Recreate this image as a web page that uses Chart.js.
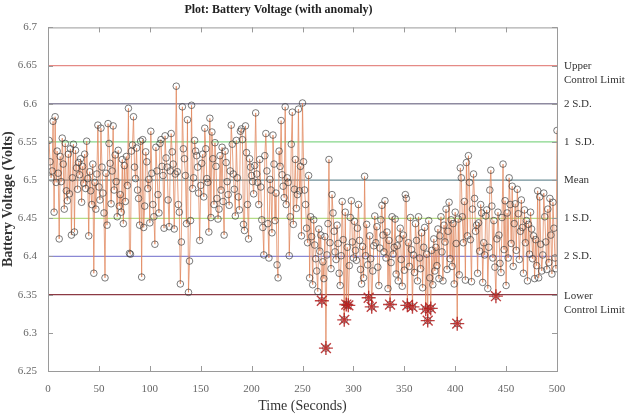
<!DOCTYPE html>
<html>
<head>
<meta charset="utf-8">
<script src="https://cdn.jsdelivr.net/npm/chart.js@4.4.0/dist/chart.umd.min.js"></script>
<style>
  html, body { margin: 0; padding: 0; background: #fff; }
</style>
</head>
<body>
<canvas id="chart" width="626" height="415"></canvas>
<script>
// battery voltage, one reading per second (t = 1..500)
const voltage = [
  6.552, 6.524, 6.503, 6.512, 6.577, 6.458, 6.583, 6.497, 6.538, 6.509,
  6.423, 6.531, 6.498, 6.555, 6.521, 6.462, 6.548, 6.486, 6.473, 6.534,
  6.482, 6.541, 6.428, 6.503, 6.547, 6.432, 6.539, 6.516, 6.488, 6.523,
  6.507, 6.528, 6.471, 6.518, 6.496, 6.534, 6.489, 6.551, 6.502, 6.427,
  6.511, 6.486, 6.468, 6.521, 6.378, 6.497, 6.462, 6.508, 6.572, 6.491,
  6.474, 6.568, 6.517, 6.483, 6.457, 6.372, 6.509, 6.441, 6.574, 6.548,
  6.522, 6.469, 6.512, 6.571, 6.487, 6.533, 6.498, 6.452, 6.539, 6.466,
  6.481, 6.458, 6.527, 6.443, 6.519, 6.472, 6.531, 6.493, 6.594, 6.404,
  6.403, 6.538, 6.546, 6.583, 6.517, 6.502, 6.542, 6.487, 6.476, 6.441,
  6.551, 6.373, 6.553, 6.438, 6.466, 6.537, 6.524, 6.489, 6.501, 6.444,
  6.564, 6.509, 6.468, 6.452, 6.416, 6.543, 6.512, 6.481, 6.457, 6.548,
  6.553, 6.518, 6.506, 6.437, 6.558, 6.529, 6.517, 6.474, 6.439, 6.512,
  6.561, 6.537, 6.521, 6.436, 6.508, 6.623, 6.511, 6.468, 6.458, 6.364,
  6.419, 6.596, 6.541, 6.528, 6.506, 6.443, 6.579, 6.353, 6.394, 6.447,
  6.598, 6.489, 6.503, 6.552, 6.538, 6.532, 6.517, 6.483, 6.421, 6.493,
  6.522, 6.534, 6.478, 6.568, 6.541, 6.502, 6.497, 6.432, 6.581, 6.451,
  6.563, 6.528, 6.468, 6.549, 6.518, 6.476, 6.449, 6.462, 6.532, 6.487,
  6.543, 6.472, 6.428, 6.538, 6.523, 6.498, 6.481, 6.467, 6.512, 6.572,
  6.547, 6.508, 6.488, 6.453, 6.552, 6.503, 6.478, 6.461, 6.564, 6.567,
  6.553, 6.442, 6.434, 6.571, 6.536, 6.468, 6.423, 6.528, 6.517, 6.506,
  6.498, 6.482, 6.519, 6.588, 6.508, 6.497, 6.468, 6.527, 6.491, 6.448,
  6.438, 6.402, 6.532, 6.561, 6.512, 6.443, 6.398, 6.501, 6.487, 6.431,
  6.559, 6.521, 6.447, 6.483, 6.389, 6.372, 6.538, 6.518, 6.578, 6.507,
  6.492, 6.477, 6.596, 6.468, 6.503, 6.497, 6.401, 6.452, 6.547, 6.589,
  6.442, 6.488, 6.527, 6.463, 6.481, 6.593, 6.486, 6.518, 6.427, 6.601,
  6.524, 6.487, 6.468, 6.437, 6.418, 6.506, 6.372, 6.452, 6.426, 6.363,
  6.448, 6.415, 6.397, 6.381, 6.354, 6.436, 6.407, 6.428, 6.342, 6.393,
  6.371, 6.426, 6.280, 6.402, 6.443, 6.527, 6.418, 6.384, 6.481, 6.457,
  6.433, 6.406, 6.396, 6.441, 6.417, 6.378, 6.362, 6.401, 6.472, 6.422,
  6.317, 6.458, 6.337, 6.412, 6.336, 6.388, 6.451, 6.473, 6.419, 6.398,
  6.446, 6.408, 6.395, 6.437, 6.468, 6.421, 6.383, 6.364, 6.413, 6.372,
  6.505, 6.401, 6.442, 6.389, 6.346, 6.427, 6.397, 6.334, 6.381, 6.414,
  6.453, 6.418, 6.439, 6.386, 6.362, 6.411, 6.448, 6.467, 6.428, 6.406,
  6.473, 6.398, 6.432, 6.358, 6.421, 6.337, 6.392, 6.452, 6.403, 6.412,
  6.449, 6.377, 6.414, 6.368, 6.423, 6.437, 6.396, 6.361, 6.428, 6.382,
  6.481, 6.476, 6.336, 6.418, 6.387, 6.451, 6.409, 6.334, 6.402, 6.379,
  6.443, 6.421, 6.368, 6.452, 6.398, 6.384, 6.431, 6.359, 6.412, 6.438,
  6.331, 6.403, 6.316, 6.447, 6.372, 6.332, 6.408, 6.363, 6.423, 6.381,
  6.412, 6.388, 6.436, 6.371, 6.427, 6.452, 6.406, 6.368, 6.441, 6.419,
  6.462, 6.383, 6.433, 6.471, 6.397, 6.448, 6.387, 6.443, 6.364, 6.458,
  6.417, 6.312, 6.449, 6.376, 6.516, 6.503, 6.452, 6.418, 6.472, 6.369,
  6.523, 6.427, 6.532, 6.497, 6.422, 6.367, 6.462, 6.508, 6.476, 6.433,
  6.441, 6.378, 6.444, 6.407, 6.468, 6.457, 6.366, 6.418, 6.402, 6.453,
  6.461, 6.358, 6.412, 6.487, 6.513, 6.466, 6.398, 6.447, 6.386, 6.348,
  6.423, 6.458, 6.428, 6.391, 6.379, 6.451, 6.521, 6.409, 6.473, 6.362,
  6.457, 6.398, 6.503, 6.468, 6.417, 6.492, 6.387, 6.443, 6.469, 6.408,
  6.488, 6.456, 6.396, 6.433, 6.474, 6.438, 6.378, 6.461, 6.418, 6.447,
  6.368, 6.442, 6.403, 6.458, 6.436, 6.397, 6.427, 6.371, 6.422, 6.388,
  6.486, 6.372, 6.478, 6.416, 6.381, 6.402, 6.483, 6.452, 6.419, 6.383,
  6.462, 6.392, 6.476, 6.428, 6.377, 6.471, 6.437, 6.398, 6.384, 6.565
];

// control levels drawn as horizontal lines, top to bottom
const ctrlLevels = [6.65, 6.60, 6.55, 6.50, 6.45, 6.40, 6.35];
const ctrlNames = [['Upper', 'Control Limit'], ['2 S.D.'], ['1  S.D.'], ['Mean'], ['1 S.D.'], ['2 S.D.'], ['Lower', 'Control Limit']];
const lowerLimit = 6.35;

const xTicks = [0, 50, 100, 150, 200, 250, 300, 350, 400, 450, 500];
const yTicks = [6.25, 6.3, 6.35, 6.4, 6.45, 6.5, 6.55, 6.6, 6.65, 6.7];

const ctrlColors = ['#e58a86', '#8e8aa0', '#86d68a', '#6f8f98', '#b4dc86', '#8a88d4', '#8c3a44'];
const serif = '"Liberation Serif", "DejaVu Serif", serif';

const points = voltage.map(function (v, i) { return { x: i + 1, y: v }; });
const anomalies = points.filter(function (p) { return p.y < lowerLimit; });

const ctrlSets = ctrlLevels.map(function (lvl, i) {
    return {
        data: [{ x: 0, y: lvl }, { x: 500, y: lvl }],
        borderColor: ctrlColors[i],
        borderWidth: 1.3,
        pointRadius: 0,
        order: 10
    };
});

const frame = {
    id: 'frame',
    afterDraw: function (chart) {
        const c = chart.ctx;
        const a = chart.chartArea;
        const xs = chart.scales.x;
        const ys = chart.scales.y;
        c.save();
        c.strokeStyle = '#9a9a9a';
        c.lineWidth = 1;
        c.strokeRect(a.left + 0.5, a.top + 0.5, a.right - a.left, a.bottom - a.top);
        c.beginPath();
        xTicks.forEach(function (t) {
            const px = Math.round(xs.getPixelForValue(t)) + 0.5;
            c.moveTo(px, a.bottom); c.lineTo(px, a.bottom - 5);
            c.moveTo(px, a.top); c.lineTo(px, a.top + 5);
        });
        yTicks.forEach(function (t) {
            const py = Math.round(ys.getPixelForValue(t)) + 0.5;
            c.moveTo(a.left, py); c.lineTo(a.left + 5, py);
            c.moveTo(a.right, py); c.lineTo(a.right - 5, py);
        });
        c.stroke();

        c.fillStyle = '#333';
        c.font = '11px ' + serif;
        c.textAlign = 'left';
        c.textBaseline = 'middle';
        ctrlLevels.forEach(function (lvl, i) {
            const py = ys.getPixelForValue(lvl);
            const lines = ctrlNames[i];
            lines.forEach(function (txt, k) {
                c.fillText(txt, a.right + 7, py + k * 14 + (lines.length > 1 ? 1 : 0));
            });
        });
        c.restore();
    }
};

const ctx = document.getElementById('chart').getContext('2d');
const myChart = new Chart(ctx, {
    type: 'line',
    data: {
        datasets: [{
            data: points,
            borderColor: 'rgba(224, 132, 90, 0.75)',
            borderWidth: 1,
            pointStyle: 'circle',
            pointRadius: 3.3,
            pointBorderWidth: 0.8,
            pointBorderColor: 'rgba(60, 60, 60, 0.85)',
            pointBackgroundColor: 'rgba(255, 255, 255, 0)',
            order: 2
        }, {
            data: anomalies,
            showLine: false,
            pointStyle: 'star',
            pointRadius: 7,
            pointBorderWidth: 1.4,
            pointBorderColor: 'rgba(180, 30, 30, 0.85)',
            order: 1
        }].concat(ctrlSets)
    },
    options: {
        responsive: false,
        animation: false,
        layout: { padding: { right: 69 } },
        scales: {
            x: {
                type: 'linear',
                min: 0,
                max: 500,
                afterBuildTicks: function (s) { s.ticks = xTicks.map(function (v) { return { value: v }; }); },
                afterFit: function (s) { s.height = 44; },
                grid: { display: false },
                border: { display: false },
                ticks: { color: '#666', font: { family: serif, size: 11 }, padding: 4, maxRotation: 0 },
                title: { display: true, text: 'Time (Seconds)', color: '#333', font: { family: serif, size: 14 }, padding: { top: 0, bottom: 0 } }
            },
            y: {
                min: 6.25,
                max: 6.7,
                afterBuildTicks: function (s) { s.ticks = yTicks.map(function (v) { return { value: v }; }); },
                afterFit: function (s) { s.width = 48; },
                grid: { display: false },
                border: { display: false },
                ticks: {
                    color: '#666',
                    font: { family: serif, size: 11 },
                    padding: 3,
                    callback: function (v) { return String(Number(v.toFixed(2))); }
                },
                title: { display: true, text: 'Battery Voltage (Volts)', color: '#333', font: { family: serif, size: 14, weight: 'bold' }, padding: { top: 0, bottom: 2 } }
            }
        },
        plugins: {
            legend: { display: false },
            tooltip: { enabled: false },
            title: {
                display: true,
                text: 'Plot: Battery Voltage (with anomaly)',
                color: '#222',
                font: { family: serif, size: 12, weight: 'bold' },
                padding: { top: 3, bottom: 10 }
            }
        }
    },
    plugins: [frame]
});
</script>
</body>
</html>
